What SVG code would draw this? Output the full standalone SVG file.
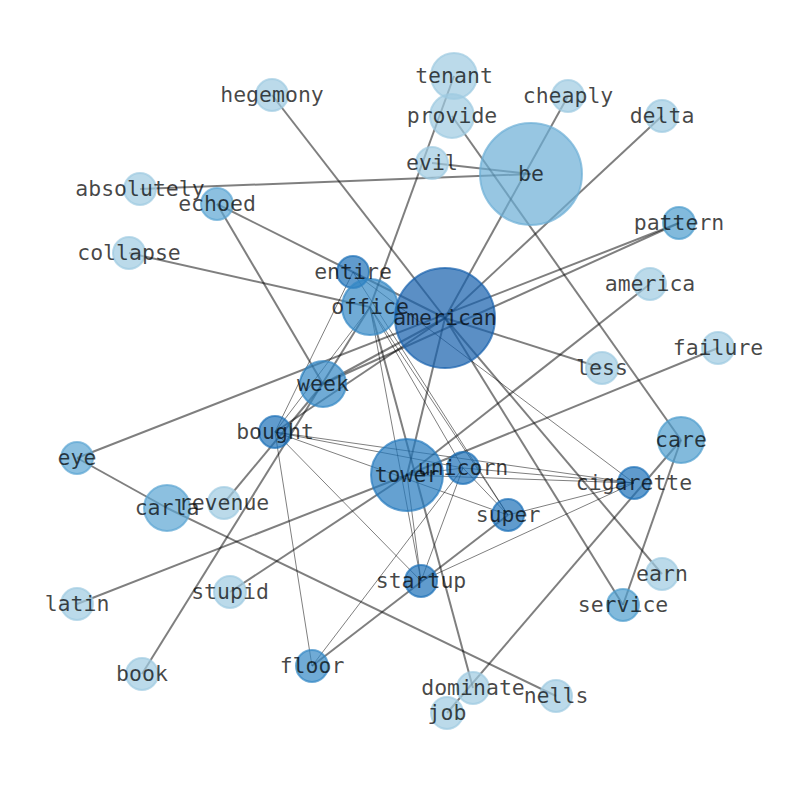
<svg xmlns="http://www.w3.org/2000/svg" width="794" height="790" viewBox="0 0 794 790">
<style>
.e2{stroke:#000;stroke-opacity:0.5;stroke-width:2;fill:none}
.e1{stroke:#000;stroke-opacity:0.5;stroke-width:1;fill:none}
circle{fill-opacity:0.7;stroke-opacity:0.7;stroke-width:2}
.c0{fill:#9ecae1;stroke:#9ecae1}
.c1{fill:#6baed6;stroke:#6baed6}
.c2{fill:#5ba5d3;stroke:#5ba5d3}
.c3{fill:#4d9ccd;stroke:#4d9ccd}
.c4{fill:#3387c4;stroke:#3387c4}
.c5{fill:#2479bd;stroke:#2479bd}
.c6{fill:#1c70b8;stroke:#1c70b8}
.c7{fill:#155fac;stroke:#155fac}
text{font-family:"DejaVu Sans Mono",monospace;font-size:21.5px;fill:#000;fill-opacity:0.72;text-anchor:middle}
</style>
<rect width="794" height="790" fill="#fff"/>
<g id="connectors">
<line class="e2" x1="272" y1="95" x2="445" y2="318"/>
<line class="e2" x1="140" y1="189" x2="531" y2="174"/>
<line class="e2" x1="432" y1="163" x2="531" y2="174"/>
<line class="e2" x1="454" y1="76" x2="370" y2="307"/>
<line class="e2" x1="452" y1="116" x2="681" y2="440"/>
<line class="e2" x1="568" y1="96" x2="445" y2="318"/>
<line class="e2" x1="662" y1="116" x2="445" y2="318"/>
<line class="e2" x1="217" y1="204" x2="445" y2="318"/>
<line class="e2" x1="217" y1="204" x2="323" y2="384"/>
<line class="e2" x1="129" y1="253" x2="370" y2="307"/>
<line class="e2" x1="77" y1="458" x2="679" y2="223"/>
<line class="e2" x1="323" y1="384" x2="679" y2="223"/>
<line class="e2" x1="323" y1="384" x2="445" y2="318"/>
<line class="e2" x1="445" y1="318" x2="602" y2="368"/>
<line class="e2" x1="650" y1="284" x2="407" y2="475"/>
<line class="e2" x1="718" y1="348" x2="407" y2="475"/>
<line class="e2" x1="77" y1="604" x2="407" y2="475"/>
<line class="e2" x1="230" y1="592" x2="407" y2="475"/>
<line class="e2" x1="77" y1="458" x2="167" y2="508"/>
<line class="e2" x1="167" y1="508" x2="556" y2="696"/>
<line class="e2" x1="224" y1="503" x2="323" y2="384"/>
<line class="e2" x1="142" y1="674" x2="370" y2="307"/>
<line class="e2" x1="681" y1="440" x2="623" y2="605"/>
<line class="e2" x1="681" y1="440" x2="447" y2="713"/>
<line class="e2" x1="662" y1="574" x2="445" y2="318"/>
<line class="e2" x1="623" y1="605" x2="445" y2="318"/>
<line class="e2" x1="370" y1="307" x2="473" y2="688"/>
<line class="e2" x1="275" y1="432" x2="445" y2="318"/>
<line class="e2" x1="407" y1="475" x2="445" y2="318"/>
<line class="e2" x1="312" y1="666" x2="508" y2="515"/>
<line class="e1" x1="353" y1="272" x2="508" y2="515"/>
<line class="e1" x1="370" y1="307" x2="508" y2="515"/>
<line class="e1" x1="370" y1="307" x2="463" y2="468"/>
<line class="e1" x1="353" y1="272" x2="634" y2="483"/>
<line class="e1" x1="353" y1="272" x2="275" y2="432"/>
<line class="e1" x1="370" y1="307" x2="275" y2="432"/>
<line class="e1" x1="370" y1="307" x2="421" y2="581"/>
<line class="e1" x1="275" y1="432" x2="508" y2="515"/>
<line class="e1" x1="275" y1="432" x2="421" y2="581"/>
<line class="e1" x1="275" y1="432" x2="312" y2="666"/>
<line class="e1" x1="275" y1="432" x2="634" y2="483"/>
<line class="e1" x1="275" y1="432" x2="463" y2="468"/>
<line class="e1" x1="463" y1="468" x2="508" y2="515"/>
<line class="e1" x1="463" y1="468" x2="421" y2="581"/>
<line class="e1" x1="463" y1="468" x2="312" y2="666"/>
<line class="e1" x1="463" y1="468" x2="407" y2="475"/>
<line class="e1" x1="463" y1="468" x2="634" y2="483"/>
<line class="e1" x1="508" y1="515" x2="634" y2="483"/>
<line class="e1" x1="421" y1="581" x2="634" y2="483"/>
<line class="e1" x1="421" y1="581" x2="407" y2="475"/>
<line class="e1" x1="407" y1="475" x2="634" y2="483"/>
</g>
<g id="n-hegemony"><circle class="c0" cx="272" cy="95" r="16"/></g>
<g id="n-absolutely"><circle class="c0" cx="140" cy="189" r="16"/></g>
<g id="n-echoed"><circle class="c2" cx="217" cy="204" r="16"/></g>
<g id="n-collapse"><circle class="c0" cx="129" cy="253" r="16"/></g>
<g id="n-tenant"><circle class="c0" cx="454" cy="76" r="23"/></g>
<g id="n-provide"><circle class="c0" cx="452" cy="116" r="22"/></g>
<g id="n-cheaply"><circle class="c0" cx="568" cy="96" r="16"/></g>
<g id="n-delta"><circle class="c0" cx="662" cy="116" r="16"/></g>
<g id="n-evil"><circle class="c0" cx="432" cy="163" r="16"/></g>
<g id="n-be"><circle class="c1" cx="531" cy="174" r="51"/></g>
<g id="n-pattern"><circle class="c3" cx="679" cy="223" r="16"/></g>
<g id="n-america"><circle class="c0" cx="650" cy="284" r="16"/></g>
<g id="n-failure"><circle class="c0" cx="718" cy="348" r="16"/></g>
<g id="n-less"><circle class="c0" cx="602" cy="368" r="16"/></g>
<g id="n-entire"><circle class="c6" cx="353" cy="272" r="16"/></g>
<g id="n-office"><circle class="c4" cx="370" cy="307" r="28"/></g>
<g id="n-american"><circle class="c7" cx="445" cy="318" r="50"/></g>
<g id="n-week"><circle class="c4" cx="323" cy="384" r="23"/></g>
<g id="n-bought"><circle class="c6" cx="275" cy="432" r="16"/></g>
<g id="n-eye"><circle class="c2" cx="77" cy="458" r="16"/></g>
<g id="n-carla"><circle class="c2" cx="167" cy="508" r="23"/></g>
<g id="n-revenue"><circle class="c0" cx="224" cy="503" r="16"/></g>
<g id="n-care"><circle class="c3" cx="681" cy="440" r="23"/></g>
<g id="n-tower"><circle class="c5" cx="407" cy="475" r="36"/></g>
<g id="n-unicorn"><circle class="c6" cx="463" cy="468" r="16"/></g>
<g id="n-cigarette"><circle class="c6" cx="634" cy="483" r="16"/></g>
<g id="n-super"><circle class="c6" cx="508" cy="515" r="16"/></g>
<g id="n-startup"><circle class="c6" cx="421" cy="581" r="16"/></g>
<g id="n-earn"><circle class="c0" cx="662" cy="574" r="16"/></g>
<g id="n-service"><circle class="c3" cx="623" cy="605" r="16"/></g>
<g id="n-latin"><circle class="c0" cx="77" cy="604" r="16"/></g>
<g id="n-stupid"><circle class="c0" cx="230" cy="592" r="16"/></g>
<g id="n-book"><circle class="c0" cx="142" cy="674" r="16"/></g>
<g id="n-floor"><circle class="c4" cx="312" cy="666" r="16"/></g>
<g id="n-dominate"><circle class="c0" cx="473" cy="688" r="16"/></g>
<g id="n-nells"><circle class="c0" cx="556" cy="696" r="16"/></g>
<g id="n-job"><circle class="c0" cx="447" cy="713" r="16"/></g>
<g id="labels">
<text x="272" y="101.5">hegemony</text>
<text x="140" y="195.5">absolutely</text>
<text x="217" y="210.5">echoed</text>
<text x="129" y="259.5">collapse</text>
<text x="454" y="82.5">tenant</text>
<text x="452" y="122.5">provide</text>
<text x="568" y="102.5">cheaply</text>
<text x="662" y="122.5">delta</text>
<text x="432" y="169.5">evil</text>
<text x="531" y="180.5">be</text>
<text x="679" y="229.5">pattern</text>
<text x="650" y="290.5">america</text>
<text x="718" y="354.5">failure</text>
<text x="602" y="374.5">less</text>
<text x="353" y="278.5">entire</text>
<text x="370" y="313.5">office</text>
<text x="445" y="324.5">american</text>
<text x="323" y="390.5">week</text>
<text x="275" y="438.5">bought</text>
<text x="77" y="464.5">eye</text>
<text x="167" y="514.5">carla</text>
<text x="224" y="509.5">revenue</text>
<text x="681" y="446.5">care</text>
<text x="407" y="481.5">tower</text>
<text x="463" y="474.5">unicorn</text>
<text x="634" y="489.5">cigarette</text>
<text x="508" y="521.5">super</text>
<text x="421" y="587.5">startup</text>
<text x="662" y="580.5">earn</text>
<text x="623" y="611.5">service</text>
<text x="77" y="610.5">latin</text>
<text x="230" y="598.5">stupid</text>
<text x="142" y="680.5">book</text>
<text x="312" y="672.5">floor</text>
<text x="473" y="694.5">dominate</text>
<text x="556" y="702.5">nells</text>
<text x="447" y="719.5">job</text>
</g>
</svg>
